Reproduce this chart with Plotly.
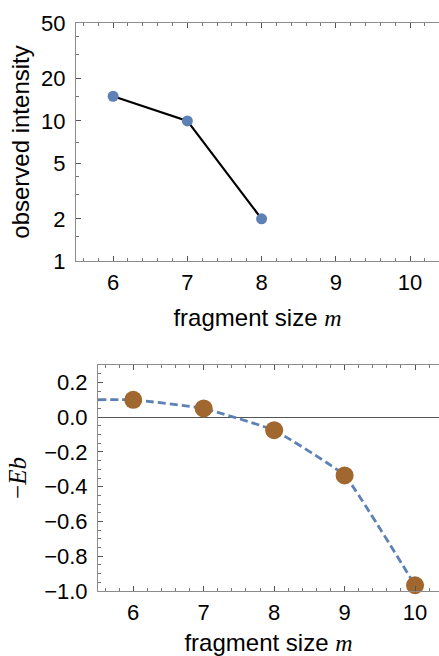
import plotly.graph_objects as go

# ---- data ----
sizes_obs = [6, 7, 8]
intensity = [15, 10, 2]

sizes_eb = [6, 7, 8, 9, 10]
neg_eb = [0.10, 0.05, -0.075, -0.335, -0.967]

# dashed interpolation curve (incl. left extrapolation)
curve_x = [5.5, 6, 7, 8, 9, 10]
curve_y = [0.10, 0.10, 0.05, -0.075, -0.335, -0.967]

x_ticks = [6, 7, 8, 9, 10]
y1_ticks = [1, 2, 5, 10, 20, 50]
y1_minor = [1.5, 3, 4, 7, 15, 30, 40]
y2_ticks = [0.2, 0.0, -0.2, -0.4, -0.6, -0.8, -1.0]

BLUE = "#5E81B5"
BROWN = "#A0672F"
FRAME = "#8c8c8c"
FONT = "Liberation Sans, Arial, sans-serif"
SERIF = "Liberation Serif, Times New Roman, serif"

XTITLE = ("fragment size <span style='font-family:Liberation Serif,Times New Roman,serif'>"
          "<i>m</i></span>")

fig = go.Figure()

fig.add_trace(go.Scatter(x=sizes_obs, y=intensity, mode="lines",
                         line=dict(color="black", width=2.2),
                         xaxis="x", yaxis="y", showlegend=False))
fig.add_trace(go.Scatter(x=sizes_obs, y=intensity, mode="markers",
                         marker=dict(color=BLUE, size=11),
                         xaxis="x", yaxis="y", showlegend=False))

fig.add_trace(go.Scatter(x=curve_x, y=curve_y, mode="lines",
                         line=dict(color=BLUE, width=2.8, dash="8px,4px",
                                   shape="spline", smoothing=0.3),
                         xaxis="x2", yaxis="y2", showlegend=False))
fig.add_trace(go.Scatter(x=sizes_eb, y=neg_eb, mode="markers",
                         marker=dict(color=BROWN, size=18),
                         cliponaxis=False,
                         xaxis="x2", yaxis="y2", showlegend=False))

W, H = 439, 656

common_x = dict(
    tickmode="array", tickvals=x_ticks, ticks="inside", ticklen=5,
    tickcolor="#555", showline=True, linecolor=FRAME, linewidth=1,
    mirror="allticks", showgrid=False, zeroline=False, automargin=False,
    tickfont=dict(family=FONT, size=22, color="black"),
    ticklabelstandoff=2,
    minor=dict(dtick=0.2, tick0=0, ticks="inside", ticklen=3, tickcolor="#777"),
)

fig.update_layout(
    template="none",
    width=W, height=H,
    margin=dict(l=0, r=0, t=0, b=0, pad=0),
    paper_bgcolor="white", plot_bgcolor="white",
    xaxis=dict(common_x, domain=[76 / W, 1], range=[5.5, 10.39], anchor="y",
               title=dict(text=XTITLE,
                          font=dict(family=FONT, size=24, color="black"),
                          standoff=14)),
    yaxis=dict(type="log", domain=[1 - 261 / H, 1 - 23 / H],
               range=[0, 1.69897], anchor="x", automargin=False,
               tickmode="array", tickvals=y1_ticks, ticktext=[str(v) for v in y1_ticks],
               ticks="inside", ticklen=5, tickcolor="#555",
               showline=True, linecolor=FRAME, linewidth=1, mirror=False,
               showgrid=False, zeroline=False,
               tickfont=dict(family=FONT, size=22, color="black"),
               ticklabelstandoff=5,
               minor=dict(tickmode="array", tickvals=y1_minor, ticks="inside",
                          ticklen=3, tickcolor="#777", showgrid=False),
               title=dict(text="observed intensity",
                          font=dict(family=FONT, size=24, color="black"),
                          standoff=4)),
    xaxis2=dict(common_x, domain=[98 / W, 1], range=[5.5, 10.34], anchor="y2",
                title=dict(text=XTITLE,
                           font=dict(family=FONT, size=24, color="black"),
                           standoff=15)),
    yaxis2=dict(domain=[1 - 591 / H, 1 - 365 / H], range=[-1.0, 0.3], anchor="x2",
                automargin=False,
                tickmode="array", tickvals=y2_ticks, tickformat=".1f",
                ticks="inside", ticklen=5, tickcolor="#555",
                showline=True, linecolor=FRAME, linewidth=1, mirror=False,
                showgrid=False, zeroline=True, zerolinecolor="#555", zerolinewidth=1,
                tickfont=dict(family=FONT, size=22, color="black"),
                ticklabelstandoff=5,
                minor=dict(dtick=0.05, tick0=0, ticks="inside", ticklen=3,
                           tickcolor="#777", showgrid=False),
                title=dict(text="−<i>Eb</i>",
                           font=dict(family=SERIF, size=25, color="black"),
                           standoff=10)),
)

fig.write_html("out.html")
